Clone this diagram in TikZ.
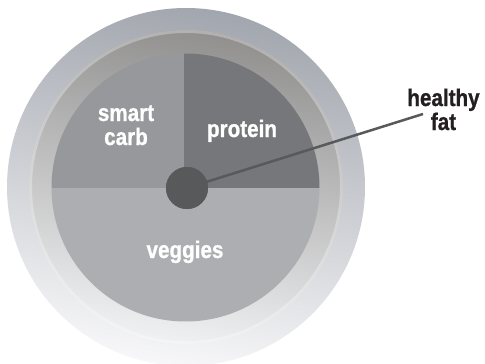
\documentclass[tikz,border=0pt]{standalone}
\usepackage{fontspec}
\newfontfamily\lblfont[FakeStretch=0.86, FakeBold=0.9]{Liberation Sans Bold}
\definecolor{carbc}{RGB}{151,152,155}
\definecolor{protc}{RGB}{118,119,122}
\definecolor{vegc}{RGB}{173,174,177}
\definecolor{dotc}{RGB}{88,89,91}
\definecolor{rimtop}{RGB}{162,166,174}
\definecolor{rimmid}{RGB}{202,205,212}
\definecolor{rimbot}{RGB}{247,247,249}
\definecolor{wtop}{RGB}{145,144,143}
\definecolor{wmid}{RGB}{200,202,208}
\definecolor{wbot}{RGB}{240,241,243}
\definecolor{inkc}{RGB}{35,31,32}
\tikzset{
  platelbl/.style={text=white, font=\lblfont\fontsize{24}{24}\selectfont, align=center, anchor=base, inner sep=0pt},
  sidelbl/.style={text=inkc, font=\lblfont\fontsize{24}{24}\selectfont, align=center, anchor=base, inner sep=0pt},
  fatdot/.style={circle, fill=dotc, minimum size=42pt, inner sep=0pt},
  leader/.style={draw=dotc, line width=2.5pt}
}
\begin{document}
\begin{tikzpicture}[x=1pt,y=-1pt]
\useasboundingbox (0,0) rectangle (485,364);
\fill[white] (0,0) rectangle (485,364);
% plate rim
\shade[top color=rimtop, middle color=rimmid, bottom color=rimbot, shading angle=-10] (186,187) circle (179);
% inner well
\shade[top color=wtop, middle color=wmid, bottom color=wbot, shading angle=-10] (186,187) circle (157);
\draw[white, opacity=0.3, line width=3pt] (186,187) circle (155.5);
% food sections
\begin{scope}
\clip (185.5,187.5) circle (134);
\fill[vegc] (0,188) rectangle (485,364);
\fill[carbc] (0,0) rectangle (184,188);
\fill[protc] (184,0) rectangle (485,188);
\end{scope}
% labels
\node[platelbl] (carb) at (126,145) {smart\\carb};
\node[platelbl] (prot) at (242,137) {protein};
\node[platelbl] (veg) at (185,258) {veggies};
\node[sidelbl] (hf) at (443.5,130) {healthy\\fat};
% healthy fat dot and leader
\node[fatdot] (fat) at (187,188) {};
\coordinate (lineend) at (423,114);
\draw[leader] (fat.center) -- (lineend);
\node[fatdot] at (fat.center) {};
\end{tikzpicture}
\end{document}
